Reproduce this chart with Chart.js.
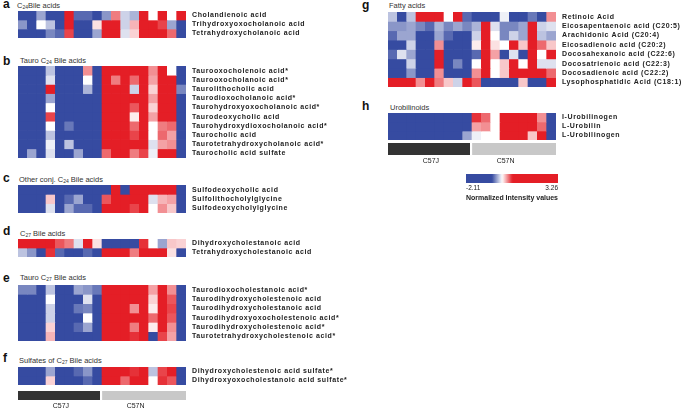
<!DOCTYPE html>
<html>
<head>
<meta charset="utf-8">
<script src="https://cdn.jsdelivr.net/npm/chart.js@4.4.1/dist/chart.umd.min.js"></script>
<style>
  body { margin: 0; background: #fff; }
  #fig { position: relative; width: 685px; height: 413px; overflow: hidden; font-family: "Liberation Sans", Arial, sans-serif; }
  #fig canvas { position: absolute; }
  .t { position: absolute; line-height: 1; white-space: nowrap; color: #333; font-size: 7.5px; }
  .t sub { font-size: 5px; vertical-align: -1px; line-height: 0; }
  .k { position: absolute; line-height: 1; font-size: 12px; font-weight: bold; color: #111; }
</style>
</head>
<body>
<div id="fig">
  <div class="k" style="left:3px;top:-1.7px">a</div>
  <div class="t" style="left:17px;top:2.2px">C<sub>24</sub>Bile acids</div>
  <div class="k" style="left:3px;top:54.8px">b</div>
  <div class="t" style="left:20px;top:57.2px">Tauro C<sub>24</sub> Bile acids</div>
  <div class="k" style="left:3px;top:171.8px">c</div>
  <div class="t" style="left:19px;top:175.7px">Other conj. C<sub>24</sub> Bile acids</div>
  <div class="k" style="left:3px;top:224.8px">d</div>
  <div class="t" style="left:20px;top:229.7px">C<sub>27</sub> Bile acids</div>
  <div class="k" style="left:3px;top:271.8px">e</div>
  <div class="t" style="left:20px;top:273.7px">Tauro C<sub>27</sub> Bile acids</div>
  <div class="k" style="left:3px;top:351.8px">f</div>
  <div class="t" style="left:19px;top:356.7px">Sulfates of C<sub>27</sub> Bile acids</div>
  <div class="k" style="left:362px;top:-0.7px">g</div>
  <div class="t" style="left:389px;top:2.2px">Fatty acids</div>
  <div class="k" style="left:362px;top:99.8px">h</div>
  <div class="t" style="left:390px;top:104.2px">Urobilinoids</div>

  <canvas id="hmA" width="368" height="27" style="left:18px;top:11px"></canvas>
  <canvas id="hmB" width="368" height="92" style="left:18px;top:66px"></canvas>
  <canvas id="hmC" width="368" height="28" style="left:18px;top:185px"></canvas>
  <canvas id="hmD" width="368" height="18" style="left:18px;top:239px"></canvas>
  <canvas id="hmE" width="368" height="56" style="left:18px;top:285px"></canvas>
  <canvas id="hmF" width="368" height="18" style="left:18px;top:367px"></canvas>
  <canvas id="grpL" width="168" height="22" style="left:18px;top:391px"></canvas>
  <canvas id="hmG" width="297" height="75" style="left:388px;top:12px"></canvas>
  <canvas id="hmH" width="297" height="27" style="left:388px;top:113px"></canvas>
  <canvas id="grpR" width="168" height="25" style="left:388px;top:143px"></canvas>
  <canvas id="cbar" width="112" height="28" style="left:456px;top:174px"></canvas>
</div>
<script>
// 18 animals: 9 C57J then 9 C57N
const samples = ["J1","J2","J3","J4","J5","J6","J7","J8","J9","N1","N2","N3","N4","N5","N6","N7","N8","N9"];
const groups = ["C57J", "C57N"];
const groupSpans = [[0, 8.75], [9.05, 18]];
const groupTickPos = [4.6, 12.6];
const scaleMin = -2.11, scaleMax = 3.26;

// a - C24 bile acids
const namesA = ["Cholandienoic acid", "Trihydroxyoxocholanoic acid", "Tetrahydroxycholanoic acid"];
const valuesA = [
  [-1.5,-1.5,-0.3,-1.5,-1.5,1.5,-0.5,-0.5,-1.5,-0.35,0.35,-0.15,-0.25,1.5,0,1.2,0,1.5],
  [-0.35,-1.5,0,-0.2,-1.5,1.5,-1.5,-1.5,0.08,1.5,1.5,-0.15,0.2,1.5,1.5,0.5,-0.3,-1.5],
  [-1.5,-1.5,-1.5,-0.4,-0.5,0.5,-1.5,-1.5,-0.3,1.5,1.5,-0.1,0.12,1.5,1.2,1.5,0.4,-1.5]
];

// b - Tauro C24 bile acids
const namesB = ["Taurooxocholenoic acid*", "Taurooxocholanoic acid*", "Taurolithocholic acid",
  "Taurodioxocholanoic acid*", "Taurohydroxyoxocholanoic acid*", "Taurodeoxycholic acid",
  "Taurohydroxydioxocholanoic acid*", "Taurocholic acid", "Taurotetrahydroxycholanoic acid*",
  "Taurocholic acid sulfate"];
const valuesB = [
  [-1.5,-1.5,-1.5,-0.2,-1.5,-1.5,-1.5,0.3,-1.5,0.6,1.5,1.5,1.5,1.5,0.3,1.5,0,-1.5],
  [-1.5,-1.5,-0.8,-0.1,-1.5,-0.6,-1.5,0,-1.5,1.5,0.35,1.5,0.4,1.5,0.25,1.5,1.5,-1.5],
  [-1.5,-1.5,-1.5,1.5,-1.5,-0.7,-1.5,-0.25,-1.5,1.5,1.5,1.5,-0.15,0.6,0.12,1.5,1.5,-0.4],
  [-1.5,-1.5,-1.5,-0.3,-1.5,-1.5,-1.5,-1.5,-1.5,1.5,1.5,1.5,1.5,1.5,0.25,1.5,0.6,-1.5],
  [-1.5,-1.5,-1.5,0,-1.5,-1.5,-1.5,-1.5,-1.5,1.5,1.5,1.5,0.45,1.5,0.12,1.5,1.5,-1.5],
  [-1.5,-1.5,-1.5,0.5,-1.5,-1.5,-1.5,-1.5,-1.5,1.5,1.5,1.5,0.05,1.5,0.25,1.5,1.5,-1.5],
  [-1.5,-1.5,-1.5,0,-1.5,-0.45,-1.5,-1.5,-1.5,1.5,1.5,1.5,0.4,1.5,0,0.35,0.4,-1.5],
  [-1.5,-1.5,-1.5,-0.2,-1.5,-1.5,-0.6,-1.5,-1.5,1.5,1.5,1.5,0.5,1.5,0,0.4,0.25,-1.5],
  [-1.5,-1.5,-1.5,-0.05,-1.5,-0.2,-1.5,-1.5,-1.5,1.5,1.5,1.5,1.5,1.5,-0.1,0.25,0.3,-1.5],
  [-1.5,-0.3,-1.5,-0.1,-1.5,-1.5,-0.3,-1.5,-1.5,0.4,1.5,1.5,0.35,0.5,-0.05,1.5,1.5,-1.5]
];

// c - other conjugated C24 bile acids
const namesC = ["Sulfodeoxycholic acid", "Sulfolithocholylglycine", "Sulfodeoxycholylglycine"];
const valuesC = [
  [-1.5,-1.5,-1.5,-1.5,-1.5,-1.5,-1.5,-1.5,-1.5,-1.5,1.5,-1.5,1.5,1.5,1.5,1.5,1.5,-1.5],
  [-1.5,-1.5,-1.5,0.15,-1.5,-0.5,-0.3,-1.5,-1.5,0.45,1.5,0.7,1.5,1.5,-0.1,0.2,0.25,-1.5],
  [-1.5,-1.5,-1.5,-0.1,-1.5,-0.3,-0.5,-0.5,-1.5,1.5,1.5,1.5,0.5,1.5,0,0.3,0.15,-1.5]
];

// d - C27 bile acids
const namesD = ["Dihydroxycholestanoic acid", "Tetrahydroxycholestanoic acid"];
const valuesD = [
  [1.5,1.5,0.6,1.5,0.45,0.35,-0.1,1.5,0.08,-1.5,-1.5,-1.5,-1.5,0.55,0,-0.3,0.15,0.12],
  [-0.2,-0.35,-1.5,0.55,-0.5,-1.5,-1.5,-0.5,-1.5,1.5,1.5,1.5,0.35,1.5,1.5,1.5,0.08,-1.5]
];

// e - Tauro C27 bile acids
const namesE = ["Taurodioxocholestanoic acid*", "Taurodihydroxycholestenoic acid",
  "Taurodihydroxycholestanoic acid", "Taurodihydroxyoxocholestenoic acid*",
  "Taurodihydroxycholestenoic acid*", "Taurotetrahydroxycholestenoic acid*"];
const valuesE = [
  [-0.4,-0.4,-1.5,-0.2,-1.5,-1.5,-0.3,-0.35,-0.45,1.5,1.5,1.5,1.5,1.5,0.25,1.5,0.3,-1.5],
  [-1.5,-1.5,-1.5,0,-1.5,-1.5,-1.5,-0.1,-1.5,1.5,1.5,1.5,0.6,1.5,0.12,1.5,0.45,-1.5],
  [-1.5,-1.5,-1.5,-0.15,-1.5,-0.7,-0.45,-0.4,-1.5,1.5,1.5,1.5,0.3,1.5,0.05,1.5,0.5,-1.5],
  [-1.5,-1.5,-1.5,-0.15,-1.5,-0.6,-1.5,0,-1.5,1.5,1.5,1.5,1.5,1.5,0.4,1.5,0.45,-1.5],
  [-1.5,-1.5,-1.5,0.12,-1.5,-0.6,-0.5,-0.3,-1.5,1.5,1.5,1.5,0.35,1.5,0.05,1.5,0.3,-1.5],
  [-1.5,-1.5,-1.5,0.2,-1.5,-1.5,-1.5,-1.5,-1.5,1.5,1.5,1.5,0.55,1.5,-1.5,0.5,0.25,-1.5]
];

// f - sulfates of C27 bile acids
const namesF = ["Dihydroxycholestenoic acid sulfate*", "Dihydroxyoxocholestanoic acid sulfate*"];
const valuesF = [
  [-1.5,-1.5,-1.5,-0.3,-1.5,-1.5,-0.5,-0.35,-1.5,1.5,1.5,1.5,0.55,1.5,-0.2,0.5,0.6,-1.5],
  [-1.5,-1.5,-1.5,0.12,-1.5,-1.5,-0.6,-0.5,-1.5,1.5,1.5,0.4,1.5,1.5,0,0.55,0.45,-1.5]
];

// g - fatty acids
const namesG = ["Retinoic Acid", "Eicosapentaenoic acid (C20:5)", "Arachidonic Acid (C20:4)",
  "Eicosadienoic acid (C20:2)", "Docosahexanoic acid (C22:6)", "Docosatrienoic acid (C22:3)",
  "Docosadienoic acid (C22:2)", "Lysophosphatidic Acid (C18:1)"];
const valuesG = [
  [-0.2,-1.5,-0.2,1.5,1.5,1.5,0,1.5,-0.5,-1.5,-1.5,-0.6,-0.05,-1.5,-1.5,-0.45,-1.5,0.3],
  [-0.35,-0.35,-0.3,-0.4,-0.5,-0.25,-0.4,-0.3,-0.4,-0.25,1.5,-0.1,-0.4,-0.4,-0.3,1.5,-0.15,-0.1],
  [-0.5,-0.3,-0.3,-1.5,-1.5,-0.3,-0.5,-0.6,-0.6,-0.15,1.5,0,-0.4,-0.15,-0.3,1.5,-0.2,-0.3],
  [-1.5,-1.5,-0.15,-1.5,-1.5,0.3,-1.5,-1.5,-1.5,0.05,1.5,0.08,0,1.5,0.15,1.5,0.4,0.15],
  [-0.5,-0.1,-0.3,-1.5,-0.6,1.5,-0.6,-1.5,-1.5,-0.5,1.5,0.25,-1.5,-0.1,-1.5,1.5,0,1.5],
  [-1.5,-1.5,-0.15,-1.5,-1.5,1.5,-1.5,-0.4,-1.5,0,0.6,0,0.15,1.5,0,1.5,-0.1,-0.1],
  [-1.5,-1.5,-0.35,-1.5,-1.5,0.3,-1.5,-1.5,-1.5,0.3,1.5,0,0.15,1.5,1.5,1.5,0.6,0.4],
  [1.5,1.5,0.7,0.3,1.5,0.35,0.15,-0.15,1.5,0.45,-1.5,-1.5,-1.5,-1.5,0.15,-1.5,-1.5,1.5]
];

// h - urobilinoids
const namesH = ["I-Urobilinogen", "L-Urobilin", "L-Urobilinogen"];
const valuesH = [
  [-1.5,-1.5,-1.5,-1.5,-1.5,-1.5,-1.5,-1.5,-1.5,0.55,0.4,0,1.5,1.5,1.5,1.5,0.3,-1.5],
  [-1.5,-0.6,-1.5,-1.5,-1.5,-1.5,-1.5,-1.5,-1.5,0.25,0.3,0,1.5,1.5,1.5,1.5,0.4,-1.5],
  [-1.5,-1.5,-1.5,-1.5,-1.5,-1.5,-1.5,-1.5,-0.3,-0.05,0,0,1.5,1.5,1.5,0.15,1.5,-1.5]
];

Chart.defaults.font.family = '"Liberation Sans", Arial, sans-serif';
Chart.defaults.color = "#222";

const blue = [54, 75, 161];
const red = [228, 30, 38];

// blue -> white -> red, saturating at +/-0.6
function cellColor(v) {
    const c = v < 0 ? blue : red;
    const t = Math.min(1, Math.abs(v) / 0.6);
    const mix = i => Math.round(255 + (c[i] - 255) * t);
    return `rgb(${mix(0)},${mix(1)},${mix(2)})`;
}

const spacing = {
    id: "spacing",
    beforeDraw(chart) { chart.ctx.letterSpacing = "0.6px"; }
};

const common = {
    responsive: false,
    animation: false,
    events: [],
    plugins: { legend: { display: false }, tooltip: { enabled: false } }
};

function heatmap(id, names, values, labelW) {
    new Chart(document.getElementById(id), {
        type: "bar",
        data: {
            labels: samples,
            datasets: values.map(row => ({
                data: row.map(() => 1),
                backgroundColor: row.map(cellColor),
                borderWidth: 0,
                barPercentage: 1,
                categoryPercentage: 1
            }))
        },
        options: {
            ...common,
            layout: { padding: 0 },
            scales: {
                x: { display: false, stacked: true },
                y: {
                    stacked: true,
                    reverse: true,
                    min: 0,
                    max: names.length,
                    position: "right",
                    grid: { display: false, drawTicks: false },
                    border: { display: false },
                    afterBuildTicks: s => { s.ticks = names.map((n, i) => ({ value: i + 0.5 })); },
                    afterFit: s => { s.width = labelW; s.paddingTop = 0; s.paddingBottom = 0; },
                    ticks: {
                        autoSkip: false,
                        padding: 6,
                        font: { size: 7, weight: "bold" },
                        color: "#222",
                        callback: (v, i) => names[i]
                    }
                }
            }
        },
        plugins: [spacing]
    });
}

function groupBar(id, axisH) {
    new Chart(document.getElementById(id), {
        type: "bar",
        data: {
            labels: ["strain"],
            datasets: [
                { data: [groupSpans[0]], backgroundColor: "#333333" },
                { data: [groupSpans[1]], backgroundColor: "#c8c8c8" }
            ]
        },
        options: {
            ...common,
            indexAxis: "y",
            datasets: { bar: { grouped: false, barPercentage: 1, categoryPercentage: 1, borderWidth: 0 } },
            scales: {
                y: { display: false },
                x: {
                    min: 0,
                    max: 18,
                    grid: { display: false, drawTicks: false },
                    border: { display: false },
                    afterBuildTicks: s => { s.ticks = groupTickPos.map(v => ({ value: v })); },
                    afterFit: s => { s.height = axisH; s.paddingLeft = 0; s.paddingRight = 0; },
                    ticks: { autoSkip: false, maxRotation: 0, padding: 2, font: { size: 7 }, color: "#222",
                             callback: (v, i) => groups[i] }
                }
            }
        }
    });
}

heatmap("hmA", namesA, valuesA, 200);
heatmap("hmB", namesB, valuesB, 200);
heatmap("hmC", namesC, valuesC, 200);
heatmap("hmD", namesD, valuesD, 200);
heatmap("hmE", namesE, valuesE, 200);
heatmap("hmF", namesF, valuesF, 200);
heatmap("hmG", namesG, valuesG, 129);
heatmap("hmH", namesH, valuesH, 129);
groupBar("grpL", 13);
groupBar("grpR", 13);

// colour key
new Chart(document.getElementById("cbar"), {
    type: "bar",
    data: {
        labels: ["key"],
        datasets: [{
            data: [[scaleMin, scaleMax]],
            borderWidth: 0,
            barPercentage: 1,
            categoryPercentage: 1,
            backgroundColor: ctx => {
                const a = ctx.chart.chartArea;
                if (!a) return null;
                const g = ctx.chart.ctx.createLinearGradient(a.left, 0, a.right, 0);
                for (let i = 0; i <= 60; i++) {
                    g.addColorStop(i / 60, cellColor(scaleMin + (scaleMax - scaleMin) * i / 60));
                }
                return g;
            }
        }]
    },
    options: {
        ...common,
        indexAxis: "y",
        layout: { padding: { left: 10, right: 10 } },
        scales: {
            y: { display: false },
            x: {
                min: scaleMin,
                max: scaleMax,
                grid: { display: false, drawTicks: false },
                border: { display: false },
                afterBuildTicks: s => { s.ticks = [{ value: scaleMin }, { value: scaleMax }]; },
                afterFit: s => { s.height = 19; s.paddingLeft = 0; s.paddingRight = 0; },
                ticks: { autoSkip: false, maxRotation: 0, align: "inner", padding: 1,
                         font: { size: 6.5 }, color: "#222", callback: v => v.toFixed(2) },
                title: { display: true, text: "Normalized Intensity values", padding: 0,
                         font: { size: 7, weight: "bold" }, color: "#222" }
            }
        }
    }
});
</script>
</body>
</html>
